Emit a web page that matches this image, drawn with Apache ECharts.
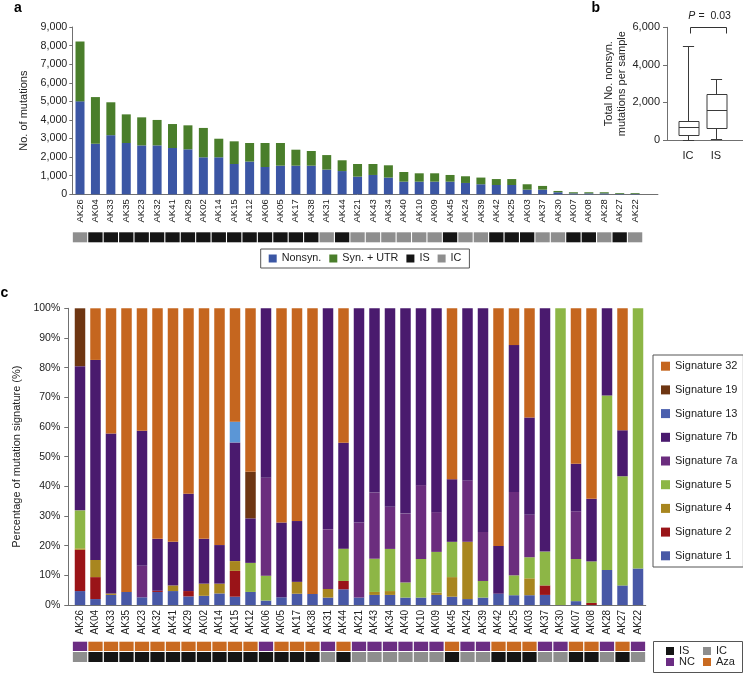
<!DOCTYPE html>
<html><head><meta charset="utf-8">
<script src="https://cdn.jsdelivr.net/npm/echarts@6/dist/echarts.min.js"></script>
<style>html,body{margin:0;padding:0;background:#fff}#c{width:743px;height:673px}</style>
</head><body><div id="c"></div>
<script>
// ---------------- DATA ----------------
const samples = ['AK26','AK04','AK33','AK35','AK23','AK32','AK41','AK29','AK02','AK14','AK15','AK12','AK06','AK05','AK17','AK38','AK31','AK44','AK21','AK43','AK34','AK40','AK10','AK09','AK45','AK24','AK39','AK42','AK25','AK03','AK37','AK30','AK07','AK08','AK28','AK27','AK22'];
const nonsyn = [5000,2720,3180,2760,2630,2630,2490,2420,1990,1990,1630,1760,1470,1540,1540,1540,1330,1250,950,1040,900,680,680,680,680,610,540,500,500,250,250,110,50,50,50,30,30];
const synUtr = [3220,2510,1770,1540,1510,1370,1290,1290,1580,1000,1220,1000,1290,1220,860,790,780,580,680,590,660,520,450,450,360,360,360,320,320,290,200,70,60,60,60,40,40];
const status = ['IC','IS','IS','IS','IS','IS','IS','IS','IS','IS','IS','IS','IS','IS','IS','IS','IC','IS','IC','IC','IC','IC','IC','IC','IS','IC','IC','IS','IS','IS','IC','IC','IS','IS','IC','IS','IC'];
const treatment = ['NC','Aza','Aza','Aza','Aza','Aza','Aza','Aza','Aza','Aza','Aza','Aza','NC','Aza','Aza','Aza','NC','Aza','NC','NC','NC','NC','NC','NC','Aza','NC','NC','Aza','Aza','Aza','NC','NC','Aza','Aza','NC','Aza','NC'];

// panel b: [min, Q1, median, Q3, max]
const boxGroups = ['IC','IS'];
const boxIC = [0,270,710,1010,5000];
const boxIS = [30,620,1600,2450,3230];
const pValue = '0.03';

// panel c: % of mutation signature per sample
const sig1  = [4.7,2.0,3.4,4.4,2.6,4.4,4.7,2.9,3.1,3.9,2.8,4.4,1.5,2.6,3.8,3.7,2.5,5.3,2.5,3.4,3.4,2.5,2.5,3.4,2.8,2.0,2.5,3.8,3.3,3.3,3.4,0,1.3,0,11.8,6.6,12.3];
const sig2  = [13.9,7.4,0,0,0,0.4,0,1.8,0,0,8.7,0,0,0,0,0,0,2.8,0,0,0,0,0,0,0,0,0,0,0,0,3.2,0,0,0.7,0,0,0];
const sig4  = [0.5,5.8,0.5,0,0,0,1.9,0,4.1,3.3,3.3,0,0,0,4.0,0,2.9,0,0,1.0,1.3,0,0,0.8,6.6,19.3,0,0,0,5.7,0,0,0,0,0,0,0];
const sig5  = [12.8,0,0,0,0,0,0,0,0,0,0,9.8,8.4,0,0,0,0,10.9,0,11.2,14.2,5.1,13.0,13.7,11.9,0,5.6,0,6.7,7.1,11.4,100,14.2,14.0,58.8,36.8,87.7];
const sig7a = [0,0,0,0,10.6,0,0,0,0,0,0,0,33.0,0,0,0,20.1,0,25.3,22.3,14.2,23.2,24.9,13.4,0,20.7,16.5,0,28.1,14.3,0,0,16.1,0,0,0,0];
const sig7b = [48.6,67.4,53.9,0,45.5,17.5,14.7,32.8,15.1,13.0,40.0,15.0,57.1,25.2,20.5,0,74.5,35.7,72.2,62.1,66.9,69.2,59.6,68.7,21.1,58.0,75.4,16.1,49.5,32.8,82.0,0,16.0,21.1,29.4,15.5,0];
const sig13 = [0,0,0,0,0,0,0,0,0,0,7.0,0,0,0,0,0,0,0,0,0,0,0,0,0,0,0,0,0,0,0,0,0,0,0,0,0,0];
const sig19 = [19.5,0,0,0,0,0,0,0,0,0,0,15.7,0,0,0,0,0,0,0,0,0,0,0,0,0,0,0,0,0,0,0,0,0,0,0,0,0];
const sig32 = [0,17.4,42.2,95.6,41.3,77.7,78.7,62.5,77.7,79.8,38.2,55.1,0,72.2,71.7,96.3,0,45.3,0,0,0,0,0,0,57.6,0,0,80.1,12.4,36.8,0,0,52.4,64.2,0,41.1,0];

const sigNames = ['Signature 1','Signature 2','Signature 4','Signature 5','Signature 7a','Signature 7b','Signature 13','Signature 19','Signature 32'];
const sigValues = [sig1,sig2,sig4,sig5,sig7a,sig7b,sig13,sig19,sig32];

// ---------------- STYLE ----------------
const FONT = '"Liberation Sans", Arial, Helvetica, sans-serif';
const AXIS = '#707070', TXT = '#222';
const sigColors = ['#4858a6','#9a1418','#a8861f','#8db646','#6b2d7e','#4a1a6e','#5b96d6','#6e3612','#c5661f'];
const legendSig13Color = '#4a5fae';
const C_NONSYN = '#3b56a4', C_SYN = '#4a7e2b', C_IS = '#151515', C_IC = '#8e8e8e', C_NC = '#6b2d83', C_AZA = '#c96a20';

const GA = {left:72.3, top:27, width:570.5, height:167.3};
const GA2 = {left:72.3, top:232.3, width:570.5, height:10};
const GB = {left:674, top:27.3, width:56, height:112.7};
const GC = {left:72.25, top:308.3, width:573.5, height:296.7};
const GC1 = {left:72.25, top:641.7, width:573.5, height:9.3};
const GC2 = {left:72.25, top:652, width:573.5, height:10};

function crisp(p){ const d = Math.round(p*2); return (d+1)%2===0 ? d/2 : (d+1)/2; }
const comma = v => String(v).replace(/\B(?=(\d{3})+(?!\d))/g, ',');

const chart = echarts.init(document.getElementById('c'), null, {renderer:'canvas'});

const grids = [GA,GA2,GB,GC,GC1,GC2].map(g => Object.assign({outerBoundsMode:'none', containLabel:false}, g));

const hiddenX = i => ({type:'category', gridIndex:i, data:samples, show:false});
const hiddenY = i => ({type:'value', gridIndex:i, min:0, max:1, show:false});

const option = {
  animation:false,
  textStyle:{fontFamily:FONT},
  grid:grids,
  xAxis:[
    {type:'category', gridIndex:0, data:samples,
     axisLine:{lineStyle:{color:AXIS}}, axisTick:{show:false},
     axisLabel:{rotate:90, interval:0, fontSize:9.5, margin:5, color:TXT, fontFamily:FONT}},
    hiddenX(1),
    {type:'category', gridIndex:2, data:boxGroups,
     axisLine:{lineStyle:{color:AXIS}}, axisTick:{show:false},
     axisLabel:{fontSize:11, margin:10, color:TXT, fontFamily:FONT}},
    {type:'category', gridIndex:3, data:samples,
     axisLine:{lineStyle:{color:AXIS}}, axisTick:{show:false},
     axisLabel:{rotate:90, interval:0, fontSize:10, margin:5, color:TXT, fontFamily:FONT}},
    hiddenX(4), hiddenX(5)
  ],
  yAxis:[
    {type:'value', gridIndex:0, min:0, max:9000, interval:1000,
     axisLine:{show:true, lineStyle:{color:AXIS}}, axisTick:{show:true, length:3, lineStyle:{color:AXIS}},
     splitLine:{show:false},
     axisLabel:{fontSize:10.7, margin:5, color:TXT, formatter:comma, fontFamily:FONT},
     name:'No. of mutations', nameLocation:'middle', nameGap:35,
     nameTextStyle:{fontSize:11, color:TXT, fontFamily:FONT}},
    hiddenY(1),
    {type:'value', gridIndex:2, min:0, max:6000, interval:2000, offset:7,
     axisLine:{show:true, lineStyle:{color:AXIS}}, axisTick:{show:true, length:4, lineStyle:{color:AXIS}},
     splitLine:{show:false},
     axisLabel:{fontSize:11, margin:7, color:TXT, formatter:comma, fontFamily:FONT},
     name:'Total No. nonsyn.\nmutations per sample', nameLocation:'middle', nameGap:39,
     nameTextStyle:{fontSize:11, lineHeight:13, color:TXT, fontFamily:FONT}},
    {type:'value', gridIndex:3, min:0, max:100, interval:10, offset:4,
     axisLine:{show:true, lineStyle:{color:AXIS}}, axisTick:{show:true, length:4, lineStyle:{color:AXIS}},
     splitLine:{show:false},
     axisLabel:{fontSize:10.5, margin:8, color:TXT, formatter:'{value}%', fontFamily:FONT},
     name:'Percentage of mutation signature (%)', nameLocation:'middle', nameGap:40,
     nameTextStyle:{fontSize:11, color:TXT, fontFamily:FONT}},
    hiddenY(4), hiddenY(5)
  ],
  legend:[
    {data:['Nonsyn.','Syn. + UTR','IS','IC'], left:260.7, top:249, orient:'horizontal',
     icon:'rect', itemWidth:8, itemHeight:8, itemGap:8, padding:[4,8,4,8],
     borderColor:'#555', borderWidth:1, selectedMode:false,
     textStyle:{fontSize:10.8, color:TXT, fontFamily:FONT}},
    {data:['Signature 32','Signature 19',{name:'Signature 13', itemStyle:{color:legendSig13Color}},'Signature 7b','Signature 7a','Signature 5','Signature 4','Signature 2','Signature 1'],
     left:653, top:355, orient:'vertical', icon:'rect', itemWidth:9, itemHeight:9, itemGap:12.7,
     padding:[5.7,6,5.7,8], borderColor:'#555', borderWidth:1, selectedMode:false,
     textStyle:{fontSize:11, color:TXT, fontFamily:FONT}},
    {data:['IS'], left:666, top:645.5, icon:'rect', itemWidth:8, itemHeight:8, padding:0, selectedMode:false, textStyle:{fontSize:11, color:TXT, fontFamily:FONT}},
    {data:['IC'], left:703, top:645.5, icon:'rect', itemWidth:8, itemHeight:8, padding:0, selectedMode:false, textStyle:{fontSize:11, color:TXT, fontFamily:FONT}},
    {data:['NC'], left:666, top:656.5, icon:'rect', itemWidth:8, itemHeight:8, padding:0, selectedMode:false, textStyle:{fontSize:11, color:TXT, fontFamily:FONT}},
    {data:['Aza'], left:703, top:656.5, icon:'rect', itemWidth:8, itemHeight:8, padding:0, selectedMode:false, textStyle:{fontSize:11, color:TXT, fontFamily:FONT}}
  ],
  series:[
    {name:'Nonsyn.', type:'bar', xAxisIndex:0, yAxisIndex:0, stack:'a', barWidth:9, data:nonsyn, itemStyle:{color:C_NONSYN}},
    {name:'Syn. + UTR', type:'bar', xAxisIndex:0, yAxisIndex:0, stack:'a', barWidth:9, data:synUtr, itemStyle:{color:C_SYN}},
    {name:'IS', type:'bar', xAxisIndex:1, yAxisIndex:1, barWidth:'93%', barGap:'-100%', data:status.map(s => s==='IS'?1:'-'), itemStyle:{color:C_IS}},
    {name:'IC', type:'bar', xAxisIndex:1, yAxisIndex:1, barWidth:'93%', barGap:'-100%', data:status.map(s => s==='IC'?1:'-'), itemStyle:{color:C_IC}},
    {name:'box', type:'custom', xAxisIndex:2, yAxisIndex:2,
     data:[[0].concat(boxIC),[1].concat(boxIS)],
     encode:{x:0, y:[1,2,3,4,5]},
     renderItem:function(params, api){
       const idx = api.value(0);
       const band = api.size([1,0])[0];
       const bw = band*0.71, cw = band*0.4;
       const pMin = api.coord([idx, api.value(1)]);
       const pQ1 = api.coord([idx, api.value(2)]);
       const pMed = api.coord([idx, api.value(3)]);
       const pQ3 = api.coord([idx, api.value(4)]);
       const pMax = api.coord([idx, api.value(5)]);
       const cx = Math.round(pMin[0]) + 0.5;
       const st = {stroke:'#3a3a3a', lineWidth:1};
       const r = v => Math.round(v) + 0.5;
       return {type:'group', children:[
         {type:'line', shape:{x1:cx, y1:r(pMax[1]), x2:cx, y2:r(pQ3[1])}, style:st},
         {type:'line', shape:{x1:cx, y1:r(pQ1[1]), x2:cx, y2:r(pMin[1])}, style:st},
         {type:'line', shape:{x1:cx-cw/2, y1:r(pMax[1]), x2:cx+cw/2, y2:r(pMax[1])}, style:st},
         {type:'line', shape:{x1:cx-cw/2, y1:r(pMin[1]), x2:cx+cw/2, y2:r(pMin[1])}, style:st},
         {type:'rect', shape:{x:Math.round(cx-bw/2), y:r(pQ3[1]), width:Math.round(bw), height:Math.round(pQ1[1]-pQ3[1])}, style:{stroke:'#3a3a3a', fill:'#fff', lineWidth:1}},
         {type:'line', shape:{x1:Math.round(cx-bw/2), y1:r(pMed[1]), x2:Math.round(cx-bw/2)+Math.round(bw), y2:r(pMed[1])}, style:st}
       ]};
     }},
  ].concat(sigNames.map((n,i) => ({
    name:n, type:'bar', xAxisIndex:3, yAxisIndex:3, stack:'c', barWidth:10.5,
    data:sigValues[i], itemStyle:{color:sigColors[i]}
  }))).concat([
    {name:'NC', type:'bar', xAxisIndex:4, yAxisIndex:4, barWidth:'92%', barGap:'-100%', data:treatment.map(s => s==='NC'?1:'-'), itemStyle:{color:C_NC}},
    {name:'Aza', type:'bar', xAxisIndex:4, yAxisIndex:4, barWidth:'92%', barGap:'-100%', data:treatment.map(s => s==='Aza'?1:'-'), itemStyle:{color:C_AZA}},
    {name:'IS', type:'bar', xAxisIndex:5, yAxisIndex:5, barWidth:'92%', barGap:'-100%', data:status.map(s => s==='IS'?1:'-'), itemStyle:{color:C_IS}},
    {name:'IC', type:'bar', xAxisIndex:5, yAxisIndex:5, barWidth:'92%', barGap:'-100%', data:status.map(s => s==='IC'?1:'-'), itemStyle:{color:C_IC}}
  ])
};
chart.setOption(option);

// annotations positioned from the axes
const pIC = chart.convertToPixel({gridIndex:2}, ['IC', 6000]);
const pIS = chart.convertToPixel({gridIndex:2}, ['IS', 6000]);
const yb = crisp(pIC[1]);
const bxL = Math.round(pIC[0]) + 2.5, bxR = Math.round(pIS[0]) + 10.5;
const baseA = crisp(GA.top + GA.height), baseB = crisp(GB.top + GB.height), baseC = crisp(GC.top + GC.height);
const lineSt = {stroke:AXIS, lineWidth:1};
const panelFont = 'bold 14px ' + FONT;

chart.setOption({graphic:[
  {type:'text', x:14, y:8.5, style:{text:'a', font:panelFont, fill:'#000', textAlign:'left', textVerticalAlign:'middle'}},
  {type:'text', x:591.5, y:8.5, style:{text:'b', font:panelFont, fill:'#000', textAlign:'left', textVerticalAlign:'middle'}},
  {type:'text', x:0.5, y:293.5, style:{text:'c', font:panelFont, fill:'#000', textAlign:'left', textVerticalAlign:'middle'}},
  {type:'line', shape:{x1:GA.left+GA.width, y1:baseA, x2:GA.left+GA.width+15.5, y2:baseA}, style:lineSt},
  {type:'line', shape:{x1:GB.left-7.5, y1:baseB, x2:GB.left, y2:baseB}, style:lineSt},
  {type:'line', shape:{x1:GB.left+GB.width, y1:baseB, x2:743, y2:baseB}, style:lineSt},
  {type:'line', shape:{x1:GC.left-4.5, y1:baseC, x2:GC.left, y2:baseC}, style:lineSt},
  {type:'polyline', shape:{points:[[bxL, yb+6],[bxL, yb],[bxR, yb],[bxR, yb+6]]}, style:{stroke:'#333', lineWidth:1, fill:null}},
  {type:'text', x:(bxL+bxR)/2 + 1, y:16.5, style:{
     text:'{i|P} {n|=  ' + pValue + '}', textAlign:'center', textVerticalAlign:'middle',
     rich:{i:{fontStyle:'italic', fontSize:10.5, fontFamily:FONT, fill:TXT}, n:{fontSize:10.5, fontFamily:FONT, fill:TXT}}}},
  {type:'rect', shape:{x:653.5, y:641.5, width:89, height:31}, style:{stroke:'#555', lineWidth:1, fill:null}, z:-1}
]});
</script>
</body></html>
